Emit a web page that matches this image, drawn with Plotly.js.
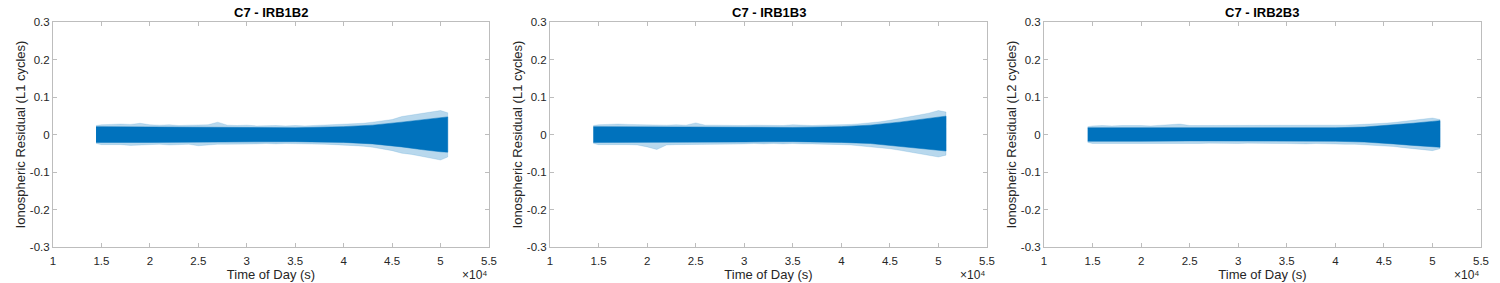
<!DOCTYPE html>
<html>
<head>
<meta charset="utf-8">
<script src="https://cdn.plot.ly/plotly-3.0.1.min.js"></script>
<style>html,body{margin:0;padding:0;background:#fff;}#chart{width:1500px;height:283px;}</style>
</head>
<body>
<div id="chart"></div>
<script>
// ---- Data (Time of Day in seconds, residual in cycles) ----
const panelTitles = ["C7 - IRB1B2", "C7 - IRB1B3", "C7 - IRB2B3"];
const yTitles = ["Ionospheric Residual (L1 cycles)", "Ionospheric Residual (L1 cycles)", "Ionospheric Residual (L2 cycles)"];

const xTickVals = [10000, 15000, 20000, 25000, 30000, 35000, 40000, 45000, 50000, 55000];
const xTickText = ["1", "1.5", "2", "2.5", "3", "3.5", "4", "4.5", "5", "5.5"];
const yTickVals = [-0.3, -0.2, -0.1, 0, 0.1, 0.2, 0.3];
const yTickText = ["-0.3", "-0.2", "-0.1", "0", "0.1", "0.2", "0.3"];

// envelope of the spiky (light) outer fringe
const outerTime1 = [14440,15000,16000,17000,18000,19000,20000,21000,22000,23000,24000,25000,26000,27000,28000,29000,30000,31000,32000,33000,34000,35000,36000,37000,38000,39000,40000,41000,42000,43000,44000,45000,46000,47000,48000,49000,50000,50740];
const outerUpper1 = [0.024,0.026,0.027,0.028,0.027,0.030,0.026,0.025,0.026,0.024,0.025,0.025,0.026,0.033,0.025,0.024,0.025,0.023,0.024,0.024,0.023,0.024,0.023,0.024,0.025,0.026,0.027,0.029,0.030,0.033,0.036,0.040,0.048,0.052,0.055,0.060,0.064,0.058];
const outerLower1 = [-0.024,-0.027,-0.028,-0.027,-0.029,-0.028,-0.027,-0.026,-0.028,-0.027,-0.026,-0.030,-0.027,-0.026,-0.026,-0.025,-0.026,-0.025,-0.024,-0.025,-0.024,-0.025,-0.024,-0.025,-0.026,-0.027,-0.027,-0.029,-0.031,-0.034,-0.038,-0.043,-0.050,-0.053,-0.058,-0.062,-0.068,-0.060];

const outerTime2 = [14460,15000,16000,17000,18000,19000,20000,21000,22000,23000,24000,25000,26000,27000,28000,29000,30000,31000,32000,33000,34000,35000,36000,37000,38000,39000,40000,41000,42000,43000,44000,45000,46000,47000,48000,49000,50000,50780];
const outerUpper2 = [0.024,0.026,0.027,0.028,0.027,0.026,0.027,0.026,0.025,0.026,0.025,0.031,0.025,0.025,0.024,0.025,0.024,0.025,0.024,0.023,0.024,0.026,0.024,0.024,0.025,0.025,0.026,0.027,0.029,0.031,0.034,0.038,0.042,0.047,0.052,0.057,0.064,0.060];
const outerLower2 = [-0.024,-0.027,-0.027,-0.028,-0.027,-0.028,-0.033,-0.040,-0.028,-0.027,-0.026,-0.027,-0.026,-0.025,-0.026,-0.025,-0.025,-0.024,-0.025,-0.024,-0.025,-0.024,-0.025,-0.025,-0.026,-0.026,-0.027,-0.028,-0.030,-0.032,-0.035,-0.038,-0.042,-0.046,-0.050,-0.055,-0.060,-0.055];

const outerTime3 = [14500,15000,16000,17000,18000,19000,20000,21000,22000,23000,24000,25000,26000,27000,28000,29000,30000,31000,32000,33000,34000,35000,36000,37000,38000,39000,40000,41000,42000,43000,44000,45000,46000,47000,48000,49000,50000,50780];
const outerUpper3 = [0.021,0.023,0.024,0.023,0.024,0.025,0.024,0.023,0.024,0.025,0.028,0.024,0.024,0.025,0.024,0.023,0.024,0.023,0.024,0.023,0.024,0.023,0.024,0.024,0.025,0.024,0.025,0.025,0.026,0.027,0.028,0.030,0.032,0.035,0.038,0.041,0.044,0.040];
const outerLower3 = [-0.021,-0.024,-0.025,-0.026,-0.024,-0.025,-0.024,-0.025,-0.024,-0.024,-0.025,-0.024,-0.024,-0.023,-0.024,-0.023,-0.024,-0.023,-0.024,-0.023,-0.024,-0.024,-0.024,-0.025,-0.024,-0.025,-0.025,-0.026,-0.026,-0.027,-0.029,-0.030,-0.032,-0.035,-0.038,-0.041,-0.043,-0.038];

// envelope of the dense (dark) core band
const coreTime1 = [14440,20000,25000,30000,35000,40000,43000,46000,48000,50000,50740];
const coreUpper1 = [0.021,0.020,0.019,0.019,0.018,0.021,0.025,0.033,0.039,0.045,0.047];
const coreLower1 = [-0.021,-0.021,-0.020,-0.020,-0.019,-0.021,-0.025,-0.033,-0.040,-0.046,-0.047];

const coreTime2 = [14460,20000,25000,30000,35000,40000,43000,46000,48000,50000,50780];
const coreUpper2 = [0.021,0.020,0.020,0.019,0.019,0.021,0.025,0.033,0.040,0.046,0.049];
const coreLower2 = [-0.021,-0.021,-0.020,-0.020,-0.019,-0.021,-0.024,-0.031,-0.037,-0.042,-0.044];

const coreTime3 = [14500,20000,25000,30000,35000,40000,43000,46000,48000,50000,50780];
const coreUpper3 = [0.018,0.018,0.017,0.017,0.017,0.018,0.020,0.025,0.030,0.035,0.037];
const coreLower3 = [-0.018,-0.018,-0.017,-0.017,-0.017,-0.018,-0.020,-0.025,-0.029,-0.033,-0.034];

// ---- Build ----
const panels = [
  {ot: outerTime1, ou: outerUpper1, ol: outerLower1, ct: coreTime1, cu: coreUpper1, cl: coreLower1},
  {ot: outerTime2, ou: outerUpper2, ol: outerLower2, ct: coreTime2, cu: coreUpper2, cl: coreLower2},
  {ot: outerTime3, ou: outerUpper3, ol: outerLower3, ct: coreTime3, cu: coreUpper3, cl: coreLower3}
];

function band(t, up, lo, color, xa, ya) {
  return {
    type: 'scatter', mode: 'lines',
    x: t.concat(t.slice().reverse()),
    y: up.concat(lo.slice().reverse()),
    fill: 'toself', fillcolor: color,
    line: {width: 0.5, color: color},
    hoverinfo: 'skip', showlegend: false,
    xaxis: xa, yaxis: ya
  };
}

const traces = [];
panels.forEach((p, i) => {
  const xa = 'x' + (i === 0 ? '' : i + 1);
  const ya = 'y' + (i === 0 ? '' : i + 1);
  traces.push(band(p.ot, p.ou, p.ol, 'rgba(0,114,189,0.28)', xa, ya));
  traces.push(band(p.ct, p.cu, p.cl, '#0072BD', xa, ya));
});

const W = 1500, H = 283;
const xDomains = [[53 / W, 489 / W], [550 / W, 987 / W], [1044 / W, 1481 / W]];
const yDomain = [1 - 247 / H, 1 - 22 / H];
const fam = 'Liberation Sans, Arial, Helvetica, sans-serif';

const layout = {
  width: W, height: H,
  margin: {l: 0, r: 0, t: 0, b: 0},
  paper_bgcolor: '#ffffff', plot_bgcolor: '#ffffff',
  font: {family: fam, size: 11, color: '#262626'}, showlegend: false,
  annotations: []
};

xDomains.forEach((d, i) => {
  const s = i === 0 ? '' : String(i + 1);
  layout['xaxis' + s] = {
    domain: d, anchor: 'y' + s, range: [10000, 55000],
    tickmode: 'array', tickvals: xTickVals, ticktext: xTickText,
    ticks: 'inside', ticklen: 4, tickcolor: '#bdbdbd', tickwidth: 1,
    ticklabelstandoff: 3,
    showline: true, linecolor: '#bdbdbd', linewidth: 1, mirror: 'ticks',
    showgrid: false, zeroline: false, tickfont: {family: fam, size: 11.5, color: '#262626'},
    title: {text: 'Time of Day (s)', font: {family: fam, size: 13, color: '#262626'}, standoff: 2}
  };
  layout['yaxis' + s] = {
    domain: yDomain, anchor: 'x' + s, range: [-0.3, 0.3],
    tickmode: 'array', tickvals: yTickVals, ticktext: yTickText,
    ticks: 'inside', ticklen: 4, tickcolor: '#bdbdbd', tickwidth: 1,
    showline: true, linecolor: '#bdbdbd', linewidth: 1, mirror: 'ticks',
    showgrid: false, zeroline: false, tickfont: {family: fam, size: 11.5, color: '#262626'},
    title: {text: yTitles[i], font: {family: fam, size: 13, color: '#262626'}, standoff: 1}
  };
  layout.annotations.push({
    xref: 'paper', yref: 'paper', x: (d[0] + d[1]) / 2, y: 1 - 13 / H,
    xanchor: 'center', yanchor: 'middle', showarrow: false,
    text: panelTitles[i], font: {family: fam, size: 13, color: '#000000', weight: 'bold'}
  });
  layout.annotations.push({
    xref: 'paper', yref: 'paper', x: d[1] + 1 / W, y: 1 - 266 / H,
    xanchor: 'right', yanchor: 'top', showarrow: false,
    text: '×10⁴', font: {family: fam, size: 12, color: '#262626'}
  });
});

Plotly.newPlot('chart', traces, layout, {staticPlot: true, displayModeBar: false});
</script>
</body>
</html>
